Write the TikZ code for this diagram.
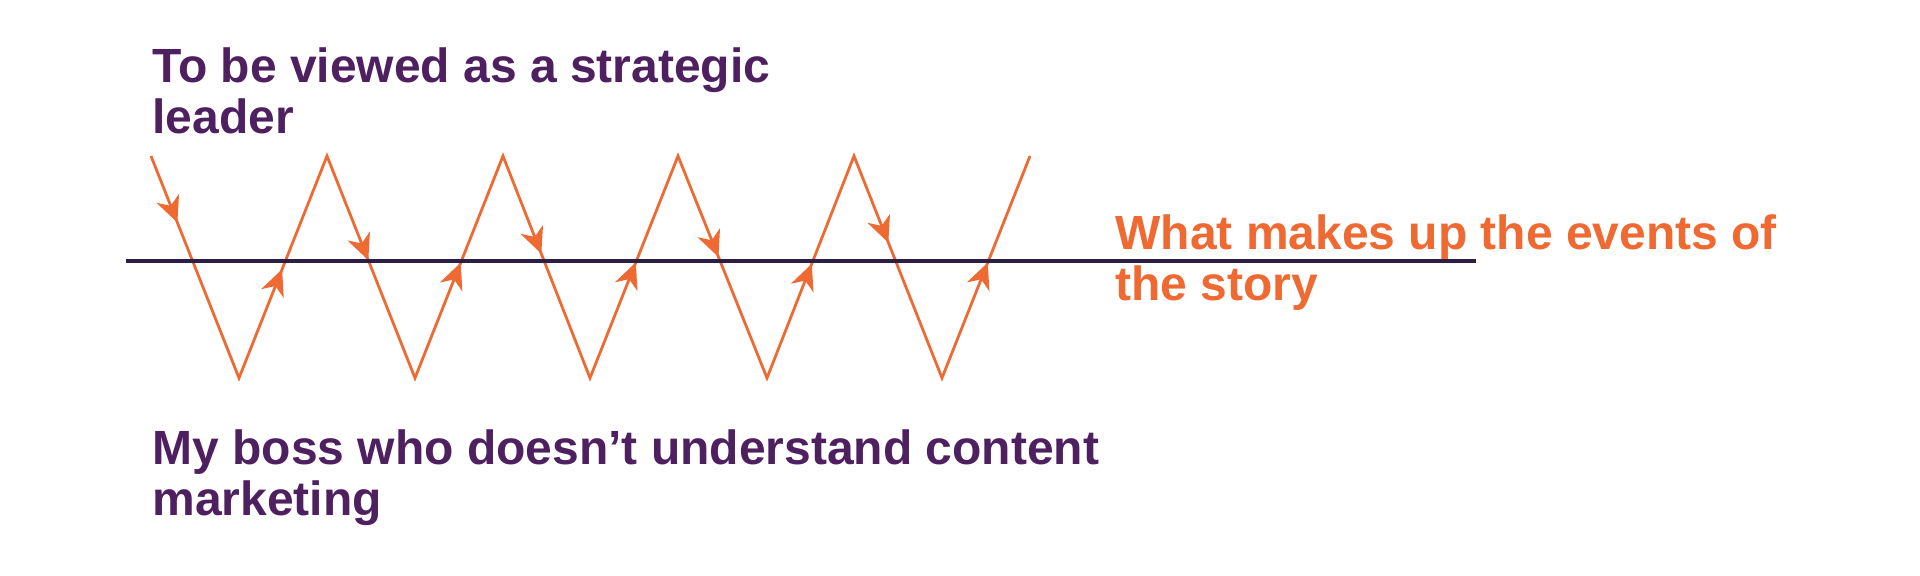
\documentclass[tikz,border=0pt]{standalone}
\usepackage{fontspec}
\setmainfont{Liberation Sans}
\usetikzlibrary{decorations.markings,arrows.meta}
\definecolor{storypurple}{RGB}{78,32,96}
\definecolor{storyorange}{RGB}{238,106,50}
\definecolor{storyline}{RGB}{44,30,68}
\tikzstyle{heading} = [anchor=base west, inner sep=0pt, align=left, font=\fontsize{24}{25.5}\selectfont\bfseries, text=storypurple]
\tikzstyle{eventtext} = [heading, text=storyorange]
\tikzstyle{zig} = [draw=storyorange, line width=1.4pt, line join=miter]
\tikzstyle{tipat} = [postaction={decorate, decoration={markings, mark=at position #1 with {\arrow{Stealth[length=13pt,width=12pt,inset=4pt]}}}}]

\begin{document}
\begin{tikzpicture}[x=0.5pt, y=-0.5pt]
\useasboundingbox (0,0) rectangle (1920,575);

% corners of the zigzag
\foreach \i/\x in {0/151,1/327,2/503,3/678,4/854,5/1030}
  \coordinate (top\i) at (\x,156);
\foreach \i/\x in {1/239,2/415,3/590,4/767,5/942}
  \coordinate (bot\i) at (\x,378);
\coordinate (lineL) at (126,261);
\coordinate (lineR) at (1476,261);

\draw [zig, tipat=0.030, tipat=0.149, tipat=0.247, tipat=0.352, tipat=0.444,
  tipat=0.552, tipat=0.6455, tipat=0.7515, tipat=0.839, tipat=0.952]
  (top0) \foreach \i in {1,...,5} { -- (bot\i) -- (top\i) };

\draw [storyline, line width=1.8pt] (lineL) -- (lineR);

% base anchor sits on the last line
\node (goal) [heading] at (152,133) {To be viewed as a strategic\\leader};
\node (events) [eventtext] at (1115,300) {What makes up the events of\\the story};
\node (boss) [heading] at (152,515) {My boss who doesn’t understand content\\marketing};

\end{tikzpicture}
\end{document}
